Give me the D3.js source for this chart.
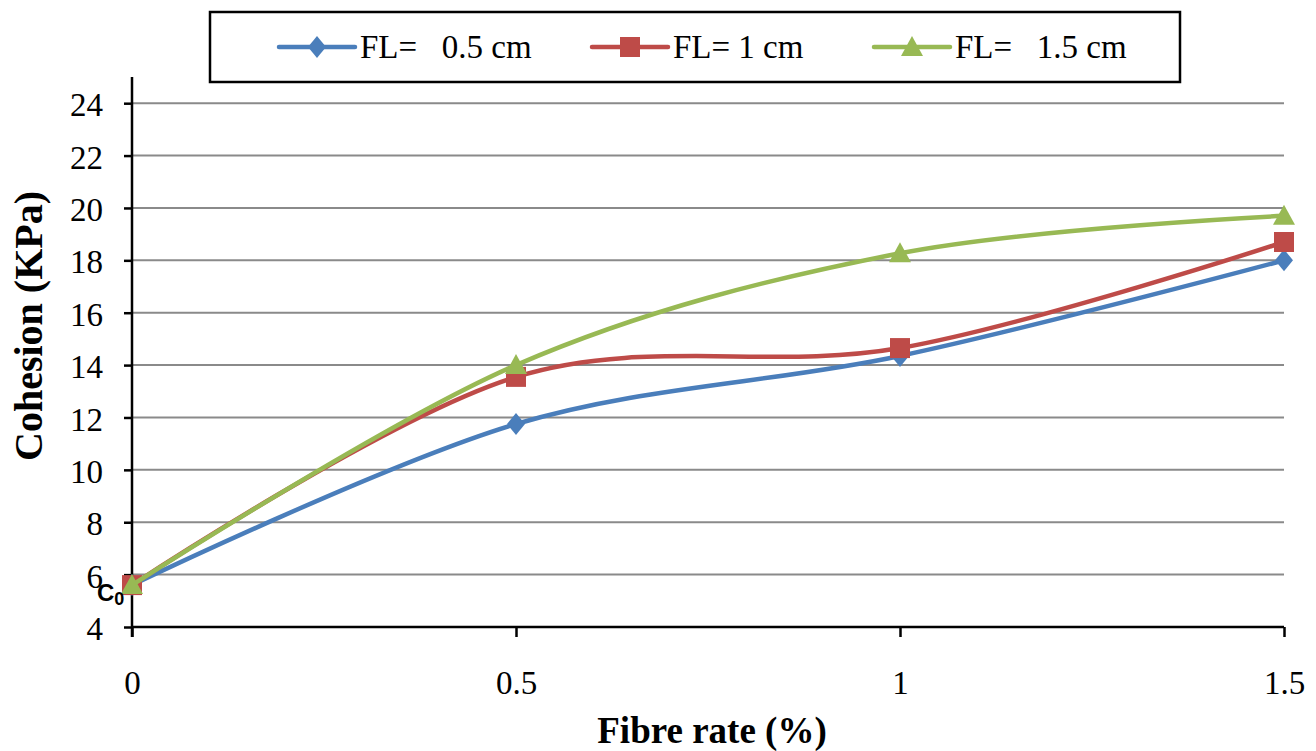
<!DOCTYPE html>
<html>
<head>
<meta charset="utf-8">
<script src="https://cdn.jsdelivr.net/npm/d3@7"></script>
<style>
  html, body { margin: 0; padding: 0; background: #fff; }
  svg { display: block; }
</style>
</head>
<body>
<svg id="chart" width="1316" height="751"></svg>
<script>
// ---- data ----
const fibreRates = [0, 0.5, 1, 1.5];
const fl05 = [5.6, 11.75, 14.35, 18.0];
const fl10 = [5.6, 13.55, 14.65, 18.7];
const fl15 = [5.6, 14.0, 18.27, 19.7];
const seriesNames = ["FL=   0.5 cm", "FL= 1 cm", "FL=   1.5 cm"];
const seriesColors = ["#4A7EBB", "#BE4B48", "#98B954"];
const seriesMarkers = ["diamond", "square", "triangle"];
const yTicks = [4, 6, 8, 10, 12, 14, 16, 18, 20, 22, 24];
const xTicks = [0, 0.5, 1, 1.5];
const xTickLabels = ["0", "0.5", "1", "1.5"];

const svg = d3.select("#chart");
const serif = "'Liberation Serif', 'Times New Roman', serif";

const x = d3.scaleLinear().domain([0, 1.5]).range([132, 1284]);
const y = d3.scaleLinear().domain([4, 25]).range([627, 77]);

// gridlines
svg.append("g").selectAll("line")
  .data(yTicks.filter(d => d > 4))
  .join("line")
  .attr("x1", x(0)).attr("x2", x(1.5))
  .attr("y1", d => y(d)).attr("y2", d => y(d))
  .attr("stroke", "#8a8a8a").attr("stroke-width", 2);

// y axis
const yAxis = svg.append("g")
  .attr("transform", `translate(${x(0)},0)`)
  .call(d3.axisLeft(y).tickValues(yTicks).tickSize(8).tickPadding(21).tickFormat(d3.format("d")));
yAxis.select(".domain").remove();
yAxis.selectAll(".tick line").attr("stroke", "#000").attr("stroke-width", 2.5);
yAxis.selectAll(".tick text")
  .attr("font-family", serif).attr("font-size", 33).attr("fill", "#000").attr("dy", "0.38em");
svg.append("line")
  .attr("x1", x(0)).attr("x2", x(0)).attr("y1", y(25)).attr("y2", y(4) + 10)
  .attr("stroke", "#000").attr("stroke-width", 2.5);

// x axis
const xAxis = svg.append("g")
  .attr("transform", `translate(0,${y(4)})`)
  .call(d3.axisBottom(x).tickValues(xTicks).tickSize(10).tickPadding(34)
    .tickFormat((d, i) => xTickLabels[i]));
xAxis.select(".domain").remove();
xAxis.selectAll(".tick line").attr("stroke", "#000").attr("stroke-width", 2.5);
xAxis.selectAll(".tick text")
  .attr("font-family", serif).attr("font-size", 33).attr("fill", "#000");
svg.append("line")
  .attr("x1", x(0)).attr("x2", x(1.5)).attr("y1", y(4)).attr("y2", y(4))
  .attr("stroke", "#000").attr("stroke-width", 2.5);

// series
const allSeries = [fl05, fl10, fl15];
const line = d3.line()
  .x((d, i) => x(fibreRates[i]))
  .y(d => y(d))
  .curve(d3.curveCardinal.tension(0));

function markerPath(type) {
  if (type === "diamond") return "M0,-11 L9,0 L0,11 L-9,0 Z";
  if (type === "square") return "M-10,-10 L10,-10 L10,10 L-10,10 Z";
  return "M0,-11 L11,9 L-11,9 Z";
}

allSeries.forEach((vals, si) => {
  const g = svg.append("g");
  g.append("path")
    .attr("d", line(vals))
    .attr("fill", "none")
    .attr("stroke", seriesColors[si])
    .attr("stroke-width", 4.5)
    .attr("stroke-linecap", "round");
  g.selectAll("path.m")
    .data(vals)
    .join("path")
    .attr("class", "m")
    .attr("transform", (d, i) => `translate(${x(fibreRates[i])},${y(d)})`)
    .attr("d", markerPath(seriesMarkers[si]))
    .attr("fill", seriesColors[si]);
});

// C0 label
const c0 = svg.append("text")
  .attr("x", 97).attr("y", 601)
  .attr("font-family", "'Liberation Sans', Arial, sans-serif")
  .attr("font-weight", "bold").attr("font-size", 24).attr("fill", "#000");
c0.append("tspan").text("C");
c0.append("tspan").attr("dy", 4).attr("font-size", 18).text("0");

// legend
svg.append("rect")
  .attr("x", 210).attr("y", 12).attr("width", 970).attr("height", 70)
  .attr("fill", "#fff").attr("stroke", "#000").attr("stroke-width", 2.5);
const legendX = [279, 592, 874];
seriesNames.forEach((name, i) => {
  const lg = svg.append("g");
  lg.append("line")
    .attr("x1", legendX[i]).attr("x2", legendX[i] + 76)
    .attr("y1", 47).attr("y2", 47)
    .attr("stroke", seriesColors[i]).attr("stroke-width", 4.5).attr("stroke-linecap", "round");
  lg.append("path")
    .attr("transform", `translate(${legendX[i] + 38},47)`)
    .attr("d", markerPath(seriesMarkers[i]))
    .attr("fill", seriesColors[i]);
  lg.append("text")
    .attr("x", legendX[i] + 81).attr("y", 58)
    .attr("font-family", serif).attr("font-size", 33).attr("fill", "#000")
    .attr("xml:space", "preserve")
    .style("white-space", "pre")
    .text(name);
});

// axis titles
svg.append("text")
  .attr("x", 712).attr("y", 743)
  .attr("text-anchor", "middle")
  .attr("font-family", serif).attr("font-weight", "bold").attr("font-size", 37)
  .attr("fill", "#000")
  .text("Fibre rate (%)");

svg.append("text")
  .attr("transform", "translate(42,326) rotate(-90)")
  .attr("text-anchor", "middle")
  .attr("font-family", serif).attr("font-weight", "bold").attr("font-size", 40)
  .attr("fill", "#000")
  .text("Cohesion (KPa)");
</script>
</body>
</html>
